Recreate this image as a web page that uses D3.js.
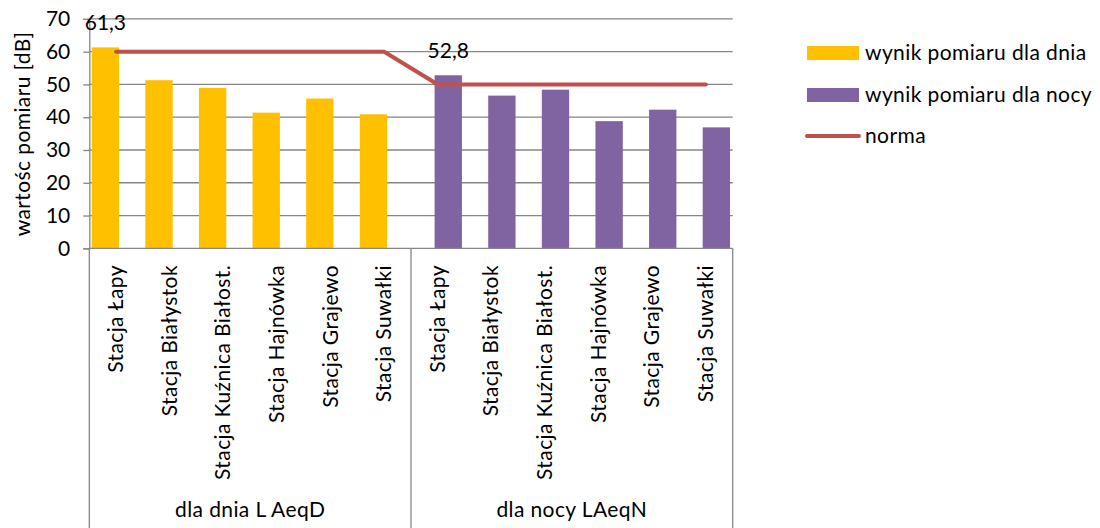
<!DOCTYPE html>
<html>
<head>
<meta charset="utf-8">
<script src="https://cdn.jsdelivr.net/npm/d3@7"></script>
<style>
  body { margin: 0; background: #fff; }
  svg text { font-family: Lato, "Noto Sans", sans-serif; fill: #000; }
</style>
</head>
<body>
<svg id="chart" width="1100" height="528"></svg>
<script>
// stations (repeated for day and night groups)
var stations = ["Stacja Łapy", "Stacja Białystok", "Stacja Kuźnica Białost.", "Stacja Hajnówka", "Stacja Grajewo", "Stacja Suwałki"]
var groups = ["dla dnia L AeqD", "dla nocy LAeqN"]
var dayValues = [61.3, 51.3, 48.9, 41.4, 45.7, 40.9]
var nightValues = [52.8, 46.6, 48.4, 38.8, 42.3, 36.9]
var normaValues = [60, 60, 60, 60, 60, 60, 50, 50, 50, 50, 50, 50]
var yTicks = [0, 10, 20, 30, 40, 50, 60, 70]
var seriesNames = ["wynik pomiaru dla dnia", "wynik pomiaru dla nocy", "norma"]
var labelledBars = ["61,3", "52,8"]

var colors = { day: "#FFC000", night: "#8064A2", norma: "#C0504D", axis: "#868686" }

var plot = { left: 89.3, right: 732.7, top: 18.9, bottom: 248.3 }
var fs = 21, ls = 0.4

var svg = d3.select("#chart")

var cats = d3.range(12)
var x = d3.scaleBand().domain(cats).range([plot.left, plot.right]).padding(0)
var y = d3.scaleLinear().domain([0, 70]).range([plot.bottom, plot.top])
var bw = x.bandwidth()

// gridlines
svg.append("g").selectAll("line").data(yTicks.slice(1)).join("line")
    .attr("x1", plot.left).attr("x2", plot.right)
    .attr("y1", d => y(d)).attr("y2", d => y(d))
    .attr("stroke", colors.axis).attr("stroke-width", 1.3)

// y axis
var yAxis = svg.append("g").attr("transform", `translate(${plot.left},0)`)
    .call(d3.axisLeft(y).tickValues(yTicks).tickSize(6).tickPadding(13))
yAxis.select(".domain").attr("stroke", colors.axis).attr("stroke-width", 1.3)
yAxis.selectAll(".tick line").attr("stroke", colors.axis).attr("stroke-width", 1.3)
yAxis.selectAll(".tick text").attr("font-size", fs)
    .style("font-family", "Lato, 'Noto Sans', sans-serif").attr("fill", "#000")

// bars
var barW = bw * 0.51
var dayBars = dayValues.map((v, i) => ({ cat: i, v: v, off: 0.045 }))
var nightBars = nightValues.map((v, i) => ({ cat: i + 6, v: v, off: 0.44 }))

svg.append("g").selectAll("rect").data(dayBars).join("rect")
    .attr("x", d => x(d.cat) + bw * d.off).attr("width", barW)
    .attr("y", d => y(d.v)).attr("height", d => y(0) - y(d.v))
    .attr("fill", colors.day)

svg.append("g").selectAll("rect").data(nightBars).join("rect")
    .attr("x", d => x(d.cat) + bw * d.off).attr("width", barW)
    .attr("y", d => y(d.v)).attr("height", d => y(0) - y(d.v))
    .attr("fill", colors.night)

// data labels on first bar of each group
var labelled = [dayBars[0], nightBars[0]]
svg.append("g").selectAll("text").data(labelled).join("text")
    .attr("x", d => x(d.cat) + bw * d.off + barW / 2)
    .attr("y", d => y(d.v) - 17)
    .attr("text-anchor", "middle").attr("font-size", fs)
    .text((d, i) => labelledBars[i])

// norma line
var line = d3.line().x((d, i) => x(i) + bw / 2).y(d => y(d))
svg.append("path").datum(normaValues).attr("d", line)
    .attr("fill", "none").attr("stroke", colors.norma).attr("stroke-width", 4)
    .attr("stroke-linecap", "round").attr("stroke-linejoin", "round")

// x axis: baseline and group separators
svg.append("line").attr("x1", plot.left).attr("x2", plot.right).attr("y1", plot.bottom).attr("y2", plot.bottom)
    .attr("stroke", colors.axis).attr("stroke-width", 1.3)
svg.append("g").selectAll("line").data([0, 6, 12]).join("line")
    .attr("x1", d => d < 12 ? x(d) : plot.right).attr("x2", d => d < 12 ? x(d) : plot.right)
    .attr("y1", plot.bottom).attr("y2", 528)
    .attr("stroke", colors.axis).attr("stroke-width", 1.3)

// category labels
svg.append("g").selectAll("text").data(cats).join("text")
    .attr("transform", d => `translate(${x(d) + bw / 2 + 7},265) rotate(-90)`)
    .attr("text-anchor", "end").attr("font-size", fs).attr("letter-spacing", ls)
    .text(d => stations[d % 6])

// group labels
svg.append("g").selectAll("text").data(groups).join("text")
    .attr("x", (d, i) => (x(i * 6) + (i === 0 ? x(6) : plot.right)) / 2)
    .attr("y", 517).attr("text-anchor", "middle").attr("font-size", fs).attr("letter-spacing", ls)
    .text(d => d)

// y axis title
svg.append("text").attr("transform", "translate(30,134) rotate(-90)")
    .attr("text-anchor", "middle").attr("font-size", fs).attr("letter-spacing", ls)
    .text("wartośc pomiaru [dB]")

// legend
var legend = svg.append("g").attr("transform", "translate(807,0)")
var ly = [53, 95, 136]
legend.append("rect").attr("x", 0).attr("y", ly[0] - 7).attr("width", 52).attr("height", 14).attr("fill", colors.day)
legend.append("rect").attr("x", 0).attr("y", ly[1] - 7).attr("width", 52).attr("height", 14).attr("fill", colors.night)
legend.append("line").attr("x1", 0).attr("x2", 52).attr("y1", ly[2]).attr("y2", ly[2])
    .attr("stroke", colors.norma).attr("stroke-width", 4).attr("stroke-linecap", "round")
legend.selectAll("text.leg").data(seriesNames).join("text").attr("class", "leg")
    .attr("x", 58).attr("y", (d, i) => ly[i] + 7).attr("font-size", fs).attr("letter-spacing", ls)
    .text(d => d)
</script>
</body>
</html>
